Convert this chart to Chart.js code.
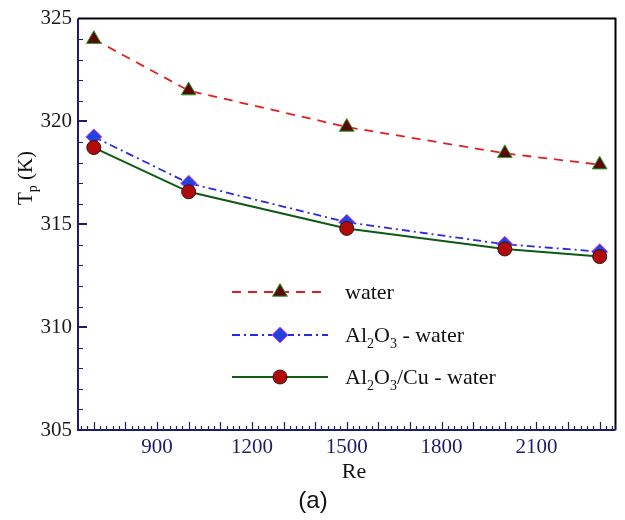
<!DOCTYPE html>
<html>
<head>
<meta charset="utf-8">
<script src="https://cdn.jsdelivr.net/npm/chart.js@4.4.0/dist/chart.umd.min.js"></script>
<style>
  html, body { margin: 0; padding: 0; background: #ffffff; }
  #wrap { width: 625px; height: 520px; position: relative; }
</style>
</head>
<body>
<div id="wrap"><canvas id="c" width="625" height="520"></canvas></div>
<script>
// ---- data ----
const reValues   = [700, 1000, 1500, 2000, 2300];
const tpWater    = [324.0, 321.5, 319.73, 318.45, 317.9];
const tpAl2O3    = [319.25, 317.0, 315.1, 314.03, 313.67];
const tpHybrid   = [318.73, 316.58, 314.8, 313.8, 313.43];
const xTickLabels = [900, 1200, 1500, 1800, 2100];
const yTickLabels = [305, 310, 315, 320, 325];
const xRange = [650, 2350];
const yRange = [305, 325];

const SERIF = "'Liberation Serif', 'Times New Roman', serif";
const NAVY = '#1c1c6a';

function pts(ys) { return reValues.map((x, i) => ({ x: x, y: ys[i] })); }

const seriesStyle = [
  { key: 'water', parts: [['water', 0]],
    borderColor: '#e21f1f', borderDash: [9, 7], borderWidth: 1.8,
    pointStyle: 'triangle', pointRadius: 8.5, pointBackgroundColor: '#5a0808',
    pointBorderColor: '#2f9e2f', pointBorderWidth: 1 },
  { key: 'al2o3', parts: [['Al', 0], ['2', 1], ['O', 0], ['3', 1], [' - water', 0]],
    borderColor: '#2a2ae6', borderDash: [8, 4, 2, 4], borderWidth: 1.8,
    pointStyle: 'rectRot', pointRadius: 8, pointBackgroundColor: '#2343e0',
    pointBorderColor: '#e040e0', pointBorderWidth: 1 },
  { key: 'hybrid', parts: [['Al', 0], ['2', 1], ['O', 0], ['3', 1], ['/Cu - water', 0]],
    borderColor: '#0c5a14', borderDash: [], borderWidth: 2,
    pointStyle: 'circle', pointRadius: 7, pointBackgroundColor: '#b00a0a',
    pointBorderColor: '#3a1010', pointBorderWidth: 1 }
];
const seriesData = [tpWater, tpAl2O3, tpHybrid];
const seriesOrder = [2, 1, 0];

const datasets = seriesStyle.map((s, i) => ({
  label: s.key,
  data: pts(seriesData[i]),
  borderColor: s.borderColor,
  borderDash: s.borderDash,
  borderWidth: s.borderWidth,
  pointStyle: s.pointStyle,
  pointRadius: s.pointRadius,
  pointHoverRadius: s.pointRadius,
  pointBackgroundColor: s.pointBackgroundColor,
  pointBorderColor: s.pointBorderColor,
  pointBorderWidth: s.pointBorderWidth,
  fill: false,
  tension: 0,
  order: seriesOrder[i]
}));

function drawRichText(ctx, parts, x, y, bigSize, smallSize, subOffset) {
  let cx = x;
  for (const [txt, sub] of parts) {
    ctx.font = (sub ? smallSize : bigSize) + 'px ' + SERIF;
    ctx.fillText(txt, cx, y + (sub ? subOffset : 0));
    cx += ctx.measureText(txt).width;
  }
  return cx;
}

const framePlugin = {
  id: 'frame',
  afterDatasetsDraw(chart) {
    const ctx = chart.ctx;
    const a = chart.chartArea;
    const xs = chart.scales.x, ys = chart.scales.y;
    ctx.save();
    ctx.setLineDash([]);
    // top & right border (black)
    ctx.strokeStyle = '#000000';
    ctx.lineWidth = 2;
    ctx.beginPath();
    ctx.moveTo(a.left, a.top); ctx.lineTo(a.right, a.top); ctx.lineTo(a.right, a.bottom);
    ctx.stroke();
    // left & bottom axes (navy)
    ctx.strokeStyle = NAVY;
    ctx.lineWidth = 2;
    ctx.beginPath();
    ctx.moveTo(a.left, a.top); ctx.lineTo(a.left, a.bottom); ctx.lineTo(a.right, a.bottom);
    ctx.stroke();
    // inward ticks on x axis
    ctx.lineWidth = 1.2;
    ctx.beginPath();
    for (let v = 660; v <= 2340; v += 20) {
      const px = Math.round(xs.getPixelForValue(v)) + 0.5;
      const len = (v % 100 === 0) ? 8 : 4;
      ctx.moveTo(px, a.bottom); ctx.lineTo(px, a.bottom - len);
    }
    ctx.stroke();
    // inward ticks on y axis
    ctx.beginPath();
    for (let v = 306; v <= 324; v += 1) {
      const py = Math.round(ys.getPixelForValue(v)) + 0.5;
      const major = (v % 5 === 0);
      ctx.moveTo(a.left, py); ctx.lineTo(a.left + (major ? 9 : 5), py);
    }
    ctx.stroke();
    ctx.beginPath();
    ctx.lineWidth = 2.2;
    for (const v of [310, 315, 320]) {
      const py = Math.round(ys.getPixelForValue(v));
      ctx.moveTo(a.left, py); ctx.lineTo(a.left + 9, py);
    }
    ctx.stroke();

    // legend
    const lx0 = 232, lx1 = 328, mx = 280, tx = 345;
    const rowsY = [292, 335, 377];
    seriesStyle.forEach((s, i) => {
      const y = rowsY[i];
      ctx.save();
      ctx.strokeStyle = s.borderColor;
      ctx.lineWidth = s.borderWidth;
      ctx.setLineDash(s.borderDash);
      ctx.beginPath();
      ctx.moveTo(lx0, y); ctx.lineTo(lx1, y);
      ctx.stroke();
      ctx.setLineDash([]);
      ctx.fillStyle = s.pointBackgroundColor;
      ctx.strokeStyle = s.pointBorderColor;
      ctx.lineWidth = s.pointBorderWidth;
      Chart.helpers.drawPoint(ctx, {
        pointStyle: s.pointStyle, radius: s.pointRadius, rotation: 0, borderWidth: s.pointBorderWidth
      }, mx, y);
      ctx.fillStyle = '#111111';
      ctx.textBaseline = 'alphabetic';
      ctx.textAlign = 'left';
      drawRichText(ctx, s.parts, tx, y + 7, 22, 14, 6);
      ctx.restore();
    });

    // y axis title T_p (K)
    ctx.save();
    ctx.translate(32, 178);
    ctx.rotate(-Math.PI / 2);
    ctx.fillStyle = '#111111';
    ctx.textBaseline = 'alphabetic';
    ctx.font = '21px ' + SERIF;
    const parts = [['T', 0], ['p', 1], [' (K)', 0]];
    let w = 0;
    for (const [t, sub] of parts) { ctx.font = (sub ? 14 : 21) + 'px ' + SERIF; w += ctx.measureText(t).width; }
    drawRichText(ctx, parts, -w / 2, 0, 21, 14, 5);
    ctx.restore();

    // x title and caption
    ctx.save();
    ctx.fillStyle = '#111111';
    ctx.textAlign = 'center';
    ctx.textBaseline = 'alphabetic';
    ctx.font = '22px ' + SERIF;
    ctx.fillText('Re', 354, 478);
    ctx.font = '24px "Liberation Sans", Arial, sans-serif';
    ctx.fillText('(a)', 313, 508);
    ctx.restore();
    ctx.restore();
  }
};

new Chart(document.getElementById('c'), {
  type: 'line',
  data: { datasets: datasets },
  options: {
    responsive: false,
    animation: false,
    events: [],
    layout: { padding: { left: 0, right: 9, top: 14, bottom: 0 } },
    plugins: { legend: { display: false }, tooltip: { enabled: false }, title: { display: false } },
    scales: {
      x: {
        type: 'linear', min: xRange[0], max: xRange[1],
        afterBuildTicks: (s) => { s.ticks = xTickLabels.map(v => ({ value: v })); },
        afterFit: (s) => { s.height = 90; },
        grid: { display: false, drawTicks: false },
        border: { display: false },
        ticks: { color: NAVY, padding: 5, maxRotation: 0, autoSkip: false,
                 callback: (v) => String(v),
                 font: { family: SERIF, size: 21 } }
      },
      y: {
        type: 'linear', min: yRange[0], max: yRange[1],
        afterBuildTicks: (s) => { s.ticks = yTickLabels.map(v => ({ value: v })); },
        afterFit: (s) => { s.width = 78; },
        grid: { display: false, drawTicks: false },
        border: { display: false },
        ticks: { color: '#1a1a1a', padding: 6, autoSkip: false,
                 callback: (v) => String(v),
                 font: { family: SERIF, size: 21 } }
      }
    }
  },
  plugins: [framePlugin]
});
</script>
</body>
</html>
